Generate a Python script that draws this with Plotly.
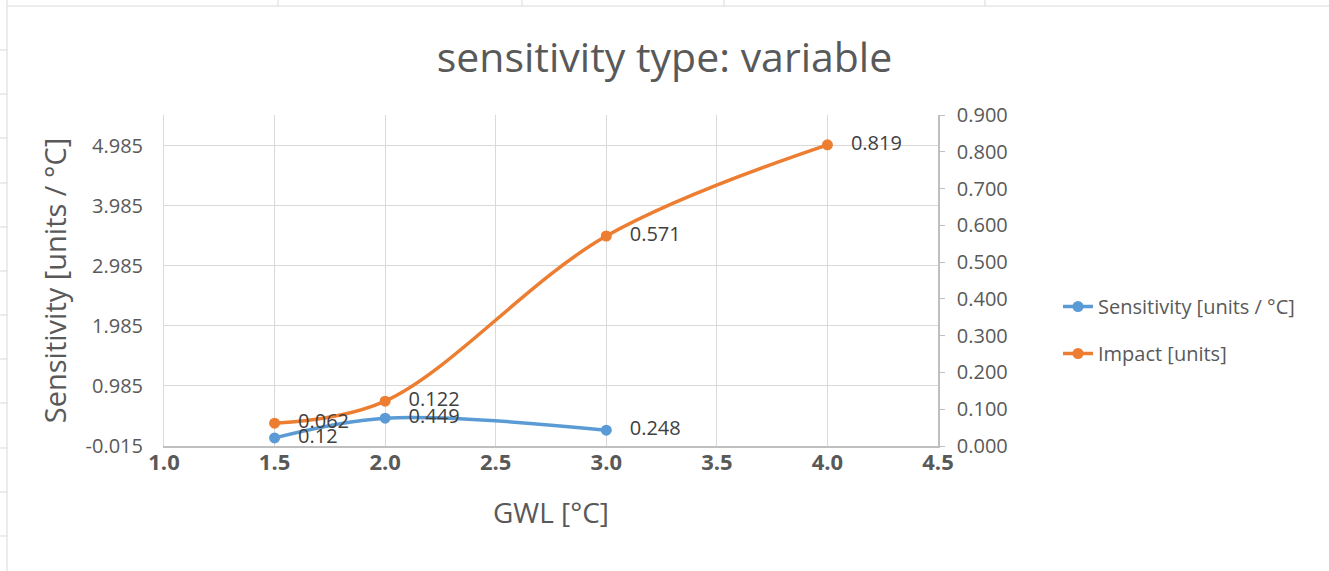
import plotly.graph_objects as go

# Data
gwl_sens = [1.5, 2.0, 3.0]
sensitivity = [0.12, 0.449, 0.248]
gwl_imp = [1.5, 2.0, 3.0, 4.0]
impact = [0.062, 0.122, 0.571, 0.819]
left_ticks = [-0.015, 0.985, 1.985, 2.985, 3.985, 4.985]
right_ticks = [0.0, 0.1, 0.2, 0.3, 0.4, 0.5, 0.6, 0.7, 0.8, 0.9]
x_ticks = [1.0, 1.5, 2.0, 2.5, 3.0, 3.5, 4.0, 4.5]

BLUE = "#5B9BD5"
ORANGE = "#ED7D31"
GRAY = "#595959"
FONT = "Open Sans"
PAD = "   "

W, H = 1329, 571
ML, MR, MT, MB = 164, 391, 115, 125
PW, PH = W - ML - MR, H - MT - MB

fig = go.Figure()
fig.add_trace(go.Scatter(
    x=gwl_sens, y=sensitivity, name="Sensitivity [units / °C]",
    mode="lines+markers+text", line=dict(color=BLUE, width=3.5, shape="spline", smoothing=1),
    marker=dict(size=11, color=BLUE), text=[PAD + str(v) for v in sensitivity],
    textposition="middle right", textfont=dict(family=FONT, size=20, color="#404040"),
    legendgroup="a", yaxis="y"))
fig.add_trace(go.Scatter(
    x=gwl_imp, y=impact, name="Impact [units]",
    mode="lines+markers+text", line=dict(color=ORANGE, width=3.5, shape="spline", smoothing=1),
    marker=dict(size=11, color=ORANGE), text=[PAD + f"{v:.3f}" for v in impact],
    textposition="middle right", textfont=dict(family=FONT, size=20, color="#404040"),
    legendgroup="b", yaxis="y2"))

def px_x(p):
    return (p - ML) / PW

def px_y(p):
    return (H - MB - p) / PH

shapes = []
sheet = dict(color="#D9D9D9", width=1)
shapes.append(dict(type="line", xref="paper", yref="paper", x0=px_x(7), x1=px_x(W), y0=px_y(6), y1=px_y(6), line=sheet, layer="below"))
shapes.append(dict(type="line", xref="paper", yref="paper", x0=px_x(7), x1=px_x(7), y0=px_y(0), y1=px_y(H), line=sheet, layer="below"))
for xv in [278, 522, 724, 985]:
    shapes.append(dict(type="line", xref="paper", yref="paper", x0=px_x(xv), x1=px_x(xv), y0=px_y(0), y1=px_y(6), line=sheet, layer="below"))
for yv in [50, 94, 138, 183, 227, 271, 315, 359, 403, 448, 492, 536]:
    shapes.append(dict(type="line", xref="paper", yref="paper", x0=px_x(0), x1=px_x(7), y0=px_y(yv), y1=px_y(yv), line=sheet, layer="below"))

fig.update_layout(
    width=W, height=H, margin=dict(l=ML, r=MR, t=MT, b=MB),
    paper_bgcolor="white", plot_bgcolor="white",
    font=dict(family=FONT, color=GRAY),
    title=dict(text="sensitivity type: variable", x=0.5, xanchor="center", y=1 - 58 / H, yanchor="middle",
               font=dict(family=FONT, size=41, color=GRAY)),
    xaxis=dict(range=[1.0, 4.5], tickvals=x_ticks, ticktext=[f"{v:.1f}" for v in x_ticks],
               showgrid=True, gridcolor="#D9D9D9", gridwidth=1,
               showline=True, linecolor="#BFBFBF", linewidth=1.5, zeroline=False,
               tickfont=dict(family=FONT, size=22, color=GRAY, weight="bold"), ticklabelstandoff=-4,
               title=dict(text="GWL [°C]", font=dict(family=FONT, size=28, color=GRAY), standoff=28)),
    yaxis=dict(range=[-0.015, 5.5], tickvals=left_ticks, ticktext=[f"{v:.3f}" for v in left_ticks],
               showgrid=True, gridcolor="#D9D9D9", gridwidth=1, zeroline=False,
               showline=True, linecolor="#D9D9D9", linewidth=1,
               tickfont=dict(family=FONT, size=20, color=GRAY), ticklabelstandoff=16,
               title=dict(text="Sensitivity [units / °C]", font=dict(family=FONT, size=29, color=GRAY), standoff=10)),
    yaxis2=dict(range=[0, 0.9], tickvals=right_ticks, ticktext=[f"{v:.3f}" for v in right_ticks],
                overlaying="y", side="right", showgrid=False, zeroline=False,
                showline=True, linecolor="#BFBFBF", linewidth=1.5,
                ticks="outside", ticklen=5, tickcolor="#BFBFBF",
                tickfont=dict(family=FONT, size=20, color=GRAY), ticklabelstandoff=8),
    legend=dict(x=px_x(1058), xanchor="left", y=px_y(330), yanchor="middle",
                traceorder="grouped", tracegroupgap=18,
                font=dict(family=FONT, size=20, color=GRAY), bgcolor="rgba(0,0,0,0)"),
    shapes=shapes,
)

fig.write_html("out.html")
